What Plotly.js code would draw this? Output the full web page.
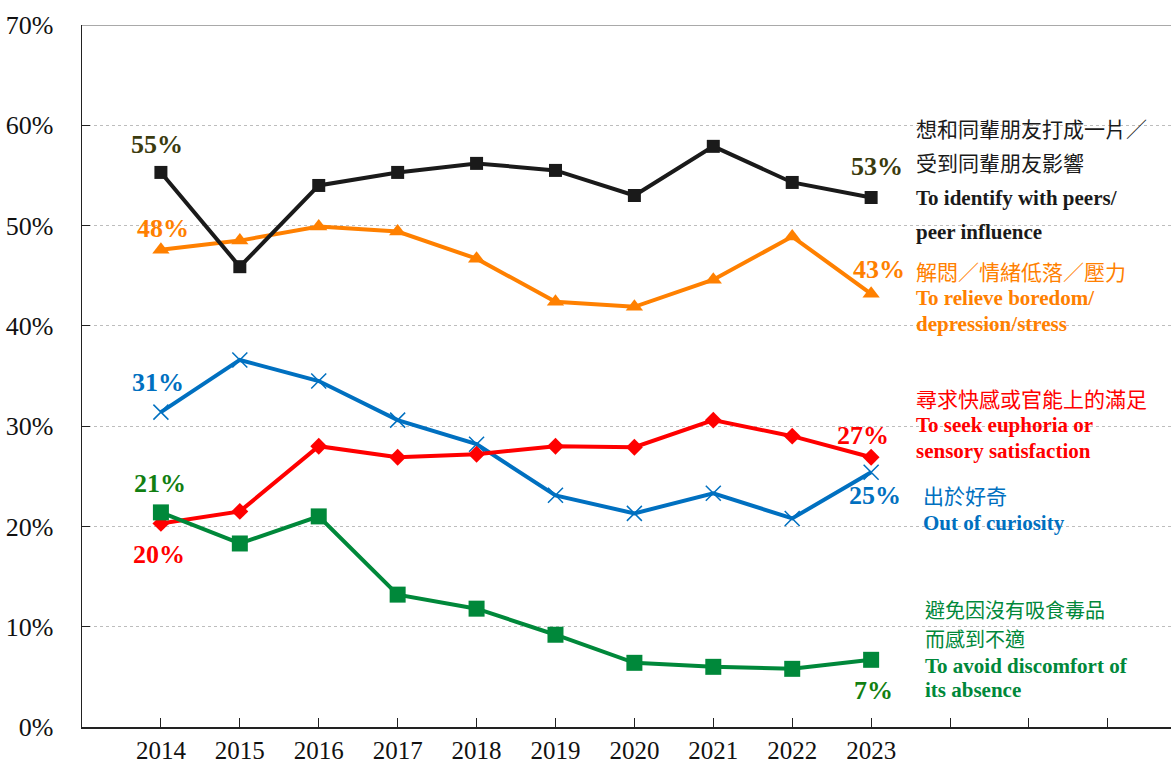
<!DOCTYPE html>
<html><head><meta charset="utf-8">
<script src="https://cdn.plot.ly/plotly-3.0.1.min.js"></script>
<style>html,body{margin:0;padding:0;background:#fff;}#chart{width:1171px;height:764px;}</style>
</head><body><div id="chart"></div>
<script>
const years = ['2014','2015','2016','2017','2018','2019','2020','2021','2022','2023'];
const peers = [55.3, 45.9, 54.0, 55.3, 56.2, 55.5, 53.0, 57.9, 54.3, 52.8];
const relieve = [47.6, 48.5, 49.9, 49.4, 46.7, 42.4, 41.9, 44.6, 48.9, 43.2];
const curiosity = [31.4, 36.6, 34.5, 30.6, 28.2, 23.1, 21.3, 23.3, 20.8, 25.4];
const euphoria = [20.3, 21.5, 28.0, 26.9, 27.2, 28.0, 27.9, 30.6, 29.0, 26.9];
const discomfort = [21.4, 18.3, 21.0, 13.2, 11.8, 9.2, 6.4, 6.0, 5.8, 6.7];
const yTicks = [0,10,20,30,40,50,60,70];

const idx = years.map((_, i) => i);
const extraTicks = [10, 11, 12];
const serif = '"Liberation Serif","Times New Roman",serif';
const cjk = '"Noto Sans CJK TC","Noto Sans CJK SC",sans-serif';

function line(y, color, symbol, size, extra) {
  return Object.assign({
    x: idx, y: y, type: 'scatter', mode: 'lines+markers',
    line: {color: color, width: 4},
    marker: {symbol: symbol, size: size, color: color},
    hoverinfo: 'none', showlegend: false, cliponaxis: false
  }, extra || {});
}

const traces = [
  line(relieve, '#ff8000', 'triangle-up', 15),
  line(peers, '#1a1a1a', 'square', 13),
  line(curiosity, '#0070c0', 'x-thin-open', 15, {marker:{symbol:'x-thin-open', size:15, color:'#0070c0', line:{color:'#0070c0', width:1.5}}}),
  line(euphoria, '#ff0000', 'diamond', 13),
  line(discomfort, '#00883a', 'square', 16)
];

const last = years.length - 1;
function valLabel(i, arr, color, xs, ys) {
  return {x: i, y: arr[i], xref: 'x', yref: 'y', text: Math.round(arr[i]) + '%',
    showarrow: false, xshift: xs, yshift: ys,
    font: {family: serif, size: 26, color: color, weight: 'bold'}};
}

function px(x) { return (x - 82) / 1089; }
function py(y) { return (727 - y) / 702; }
function txt(x, y, t, color, isCjk, size) {
  const s = size || 21;
  return {x: px(x), y: py(y), xref: 'paper', yref: 'paper', xanchor: 'left', yanchor: 'middle',
    text: t, showarrow: false,
    font: isCjk ? {family: cjk, size: s, color: color} : {family: serif, size: s, color: color, weight: 'bold'}};
}

const annotations = [
  valLabel(0, peers, '#3b3b0e', -4, 28),
  valLabel(last, peers, '#3b3b0e', 6, 31),
  valLabel(0, relieve, '#ff8000', 2, 21),
  valLabel(last, relieve, '#ff8000', 8, 24),
  valLabel(0, curiosity, '#0070c0', -3, 30),
  valLabel(last, curiosity, '#0070c0', 4, -23),
  valLabel(0, euphoria, '#ff0000', -2, -31),
  valLabel(last, euphoria, '#ff0000', -8, 22),
  valLabel(0, discomfort, '#127f12', -1, 29),
  valLabel(last, discomfort, '#127f12', 2, -31),
  txt(914, 128, '想和同輩朋友打成一片／', '#1a1a1a', true),
  txt(914, 162, '受到同輩朋友影響', '#1a1a1a', true),
  txt(914, 198, 'To identify with peers/', '#1a1a1a', false),
  txt(914, 232, 'peer influence', '#1a1a1a', false),
  txt(914, 271, '解悶／情緒低落／壓力', '#ff8000', true),
  txt(914, 298, 'To relieve boredom/', '#ff8000', false),
  txt(914, 324, 'depression/stress', '#ff8000', false),
  txt(914, 398, '尋求快感或官能上的滿足', '#ff0000', true),
  txt(914, 425, 'To seek euphoria or', '#ff0000', false),
  txt(914, 451, 'sensory satisfaction', '#ff0000', false),
  txt(921, 495, '出於好奇', '#0070c0', true),
  txt(921, 523, 'Out of curiosity', '#0070c0', false),
  txt(923, 609, '避免因沒有吸食毒品', '#00883a', true, 20),
  txt(923, 638, '而感到不適', '#00883a', true, 20),
  txt(923, 666, 'To avoid discomfort of', '#00883a', false),
  txt(923, 690, 'its absence', '#00883a', false)
];

const layout = {
  width: 1171, height: 764,
  margin: {l: 82, r: 0, t: 25, b: 37},
  paper_bgcolor: '#fff', plot_bgcolor: '#fff',
  showlegend: false,
  xaxis: {
    range: [-1, 12.8], tickmode: 'array',
    tickvals: idx.concat(extraTicks), ticktext: years.concat(extraTicks.map(() => '')),
    ticks: 'inside', ticklen: 9, tickwidth: 1, tickcolor: '#222',
    showline: true, linecolor: '#222', linewidth: 1.5, showgrid: false, zeroline: false,
    tickfont: {family: serif, size: 25, color: '#111'}, ticklabelstandoff: 0
  },
  yaxis: {
    range: [0, 70], tickmode: 'array', tickvals: yTicks, ticktext: yTicks.map(v => v + '%'),
    ticks: 'inside', ticklen: 8, tickwidth: 1, tickcolor: '#222',
    showline: true, linecolor: '#222', linewidth: 1.5,
    showgrid: true, gridcolor: '#bdbdbd', griddash: 'dot', gridwidth: 1, zeroline: false,
    tickfont: {family: serif, size: 26, color: '#111'}, ticklabelstandoff: 22
  },
  shapes: [{type: 'line', xref: 'paper', yref: 'y', x0: 0, x1: 1, y0: 70, y1: 70,
    line: {color: '#555', width: 1.2}}],
  annotations: annotations
};

Plotly.newPlot('chart', traces, layout, {displayModeBar: false, staticPlot: true});
</script></body></html>
